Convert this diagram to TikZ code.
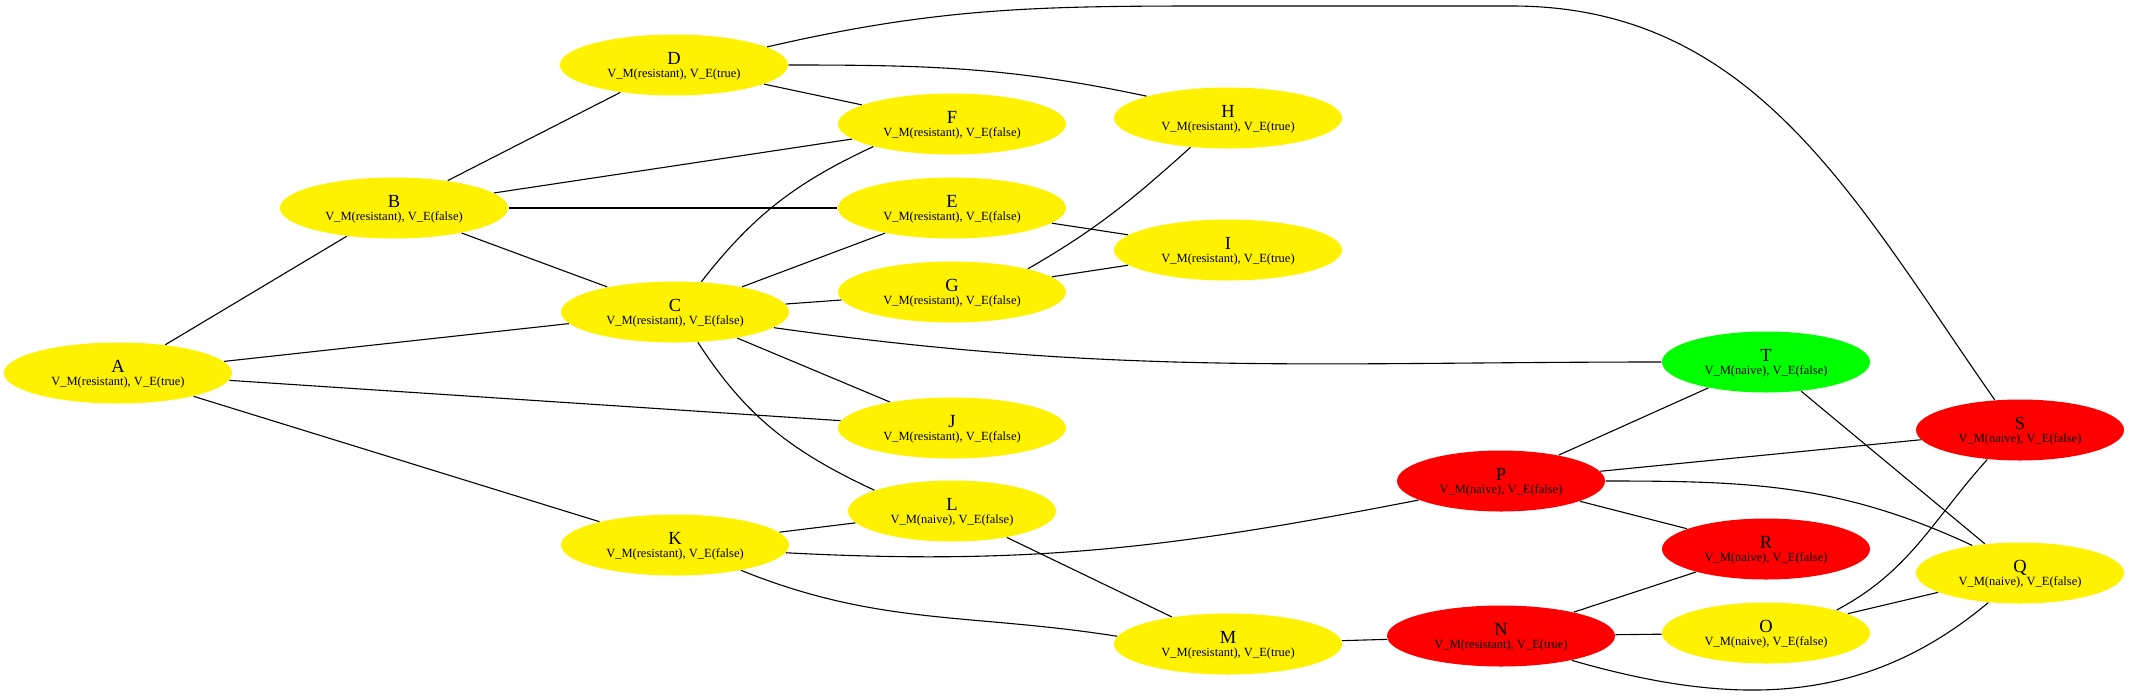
\documentclass[tikz,border=0pt]{standalone}
\usepackage{fontspec}
\setmainfont{Liberation Serif}
\usetikzlibrary{shapes}

\newcommand{\vlabel}[2]{{\fontsize{18.5}{13}\selectfont\rule{0pt}{15.5pt}#1}\\V\_M(#2)}

\begin{document}
\begin{tikzpicture}[-,auto,x=1pt,y=-1pt,line width=1.1pt]
\tikzstyle{bubble}=[shape=ellipse,draw=none,text=black,inner sep=0pt,minimum height=61pt,align=center,font=\fontsize{12.5}{13}\selectfont]
\tikzstyle{wide}=[bubble,minimum width=228pt]
\tikzstyle{slim}=[bubble,minimum width=208pt]
\useasboundingbox (0,0) rectangle (2130,697);

\node[wide,fill=yellow]	(A) at (118,373)  {\vlabel{A}{resistant), V\_E(true}};
\node[wide,fill=yellow]	(B) at (394,208)  {\vlabel{B}{resistant), V\_E(false}};
\node[wide,fill=yellow]	(C) at (675,312)  {\vlabel{C}{resistant), V\_E(false}};
\node[wide,fill=yellow]	(D) at (674,65)   {\vlabel{D}{resistant), V\_E(true}};
\node[wide,fill=yellow]	(E) at (952,208)  {\vlabel{E}{resistant), V\_E(false}};
\node[wide,fill=yellow]	(F) at (952,124)  {\vlabel{F}{resistant), V\_E(false}};
\node[wide,fill=yellow]	(G) at (952,292)  {\vlabel{G}{resistant), V\_E(false}};
\node[wide,fill=yellow]	(H) at (1228,118) {\vlabel{H}{resistant), V\_E(true}};
\node[wide,fill=yellow]	(I) at (1228,250) {\vlabel{I}{resistant), V\_E(true}};
\node[wide,fill=yellow]	(J) at (952,428)  {\vlabel{J}{resistant), V\_E(false}};
\node[wide,fill=yellow]	(K) at (675,545)  {\vlabel{K}{resistant), V\_E(false}};
\node[slim,fill=yellow]	(L) at (952,511)  {\vlabel{L}{naive), V\_E(false}};
\node[wide,fill=yellow]	(M) at (1228,644) {\vlabel{M}{resistant), V\_E(true}};
\node[wide,fill=red]	(N) at (1501,636) {\vlabel{N}{resistant), V\_E(true}};
\node[slim,fill=yellow]	(O) at (1766,633) {\vlabel{O}{naive), V\_E(false}};
\node[slim,fill=red]	(P) at (1501,481) {\vlabel{P}{naive), V\_E(false}};
\node[slim,fill=yellow]	(Q) at (2020,573) {\vlabel{Q}{naive), V\_E(false}};
\node[slim,fill=red]	(R) at (1766,549) {\vlabel{R}{naive), V\_E(false}};
\node[slim,fill=red]	(S) at (2020,430) {\vlabel{S}{naive), V\_E(false}};
\node[slim,fill=green]	(T) at (1766,362) {\vlabel{T}{naive), V\_E(false}};

\path
(A) edge (B)
(A) edge (C)
(A) edge (J)
(A) edge (K)
(B) edge (D)
(B) edge (F)
(B) edge (E)
(B) edge (C)
(C.49) edge[out=52,in=205] (F.196)
(C) edge (E)
(C) edge (G)
(C.-9) edge[out=-8,in=180] (T.180)
(C) edge (J)
(C.-53) edge[out=-57,in=155] (L.165)
(D) edge (F)
(D.0) edge[out=0,in=168] (H.165)
(E) edge (I)
(G) edge (I)
(G.17) edge[out=30,in=222] (H.218)
(K) edge (L)
(K.-4) edge[out=-3,in=191] (P.193)
(K.-21) edge[out=-22,in=171] (M.176)
(L) edge (M)
(M) edge (N)
(N) edge (R)
(N) edge (O)
(N.-19) edge[out=-16,in=220] (Q.223)
(O) edge (Q)
(O.18) edge[out=28,in=228] (S.222)
(P) edge (T)
(P) edge (S)
(P) edge (R)
(P.0) edge[out=0,in=155] (Q.150)
(T) edge (Q)
;
\draw (D.11) to[out=13,in=180] (1210,6) -- (1512,6) to[out=0,in=125] (S.130);
\end{tikzpicture}
\end{document}
